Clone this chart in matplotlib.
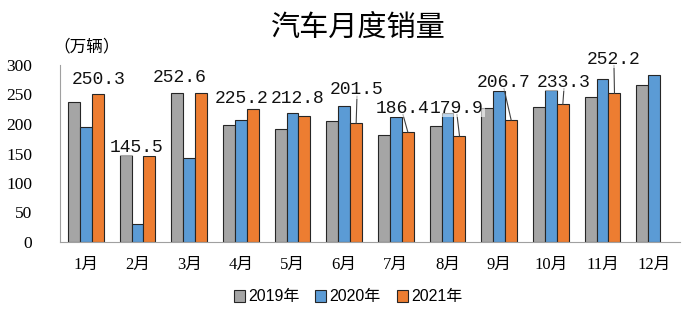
import numpy as np
import matplotlib
matplotlib.use('Agg')
import matplotlib.pyplot as plt
from matplotlib.patches import Patch

# Monthly vehicle sales (10k units)
months = ['1月', '2月', '3月', '4月', '5月', '6月', '7月', '8月', '9月', '10月', '11月', '12月']
sales_2019 = [236.7, 148.2, 252.2, 198.0, 191.3, 205.6, 180.8, 195.8, 227.1, 228.4, 245.5, 265.7]
sales_2020 = [194.1, 31.0, 143.1, 207.0, 219.4, 230.0, 211.2, 218.6, 256.5, 257.3, 276.5, 283.1]
sales_2021 = [250.3, 145.5, 252.6, 225.2, 212.8, 201.5, 186.4, 179.9, 206.7, 233.3, 252.2]
years = ['2019年', '2020年', '2021年']
yticks = [0, 50, 100, 150, 200, 250, 300]

# label placement for the 2021 values (x offset in category units, y in data units)
label_dx = [0.245, -0.01, -0.18, 0.02, 0.106, 0.248, 0.138, 0.183, 0.093, 0.254, 0.222]
label_y = [276, 161, 278, 244, 244, 258, 227, 227, 271, 271, 310]
leader = [5, 6, 7, 8, 9, 10]

colors = ['#A5A5A5', '#5B9BD5', '#ED7D31']
edge = '#262626'
cjk = ['Liberation Serif', 'Noto Sans CJK SC']

fig = plt.figure(figsize=(7, 3.24), dpi=100)
ax = fig.add_axes([60 / 700, 1 - 242 / 324, 620 / 700, 177 / 324])

x = np.arange(len(months))
w = 0.232
ax.bar(x - w, sales_2019, w, color=colors[0], edgecolor=edge, lw=0.8, zorder=2)
ax.bar(x, sales_2020, w, color=colors[1], edgecolor=edge, lw=0.8, zorder=2)
ax.bar(x[:len(sales_2021)] + w, sales_2021, w, color=colors[2], edgecolor=edge, lw=0.8, zorder=2)

for i, v in enumerate(sales_2021):
    lx = i + label_dx[i]
    ly = label_y[i]
    if i in leader:
        ax.plot([lx, i + w], [ly - 11, v], color='#404040', lw=0.8, zorder=3)
    ax.text(lx, ly, '{:.1f}'.format(v), ha='center', va='center',
            fontsize=13, family='Liberation Mono', color='#111111', zorder=5,
            bbox=dict(facecolor='white', alpha=0.6, edgecolor='none', pad=0.5))

ax.set_xlim(-0.5, len(months) - 0.5)
ax.set_ylim(0, 300)
ax.set_yticks(yticks)
ax.set_yticklabels([str(t) for t in yticks], family='Liberation Serif', fontsize=12.5)
ax.set_xticks(x)
ax.set_xticklabels(months, family=cjk, fontsize=12)
ax.tick_params(axis='y', length=0, pad=20)
ax.tick_params(axis='x', length=0, pad=11)
for s in ['top', 'right']:
    ax.spines[s].set_visible(False)
ax.spines['left'].set_color('#A0A0A0')
ax.spines['bottom'].set_color('#A0A0A0')

fig.text(358 / 700, 1 - 28 / 324, '汽车月度销量', ha='center', va='center',
         family='Noto Sans CJK SC', fontsize=21)
fig.text(53 / 700, 1 - 47 / 324, '（万辆）', ha='left', va='center',
         family='Noto Sans CJK SC', fontsize=12)

handles = [Patch(facecolor=c, edgecolor=edge, lw=0.8) for c in colors]
fig.legend(handles, years, loc='center', bbox_to_anchor=(348 / 700, 1 - 297 / 324),
           ncol=3, frameon=False, prop={'family': ['Liberation Sans', 'Noto Sans CJK SC'], 'size': 11.5},
           handlelength=0.7, handleheight=0.7, handletextpad=0.2, columnspacing=1.0)

plt.savefig('out.png', dpi=100)
